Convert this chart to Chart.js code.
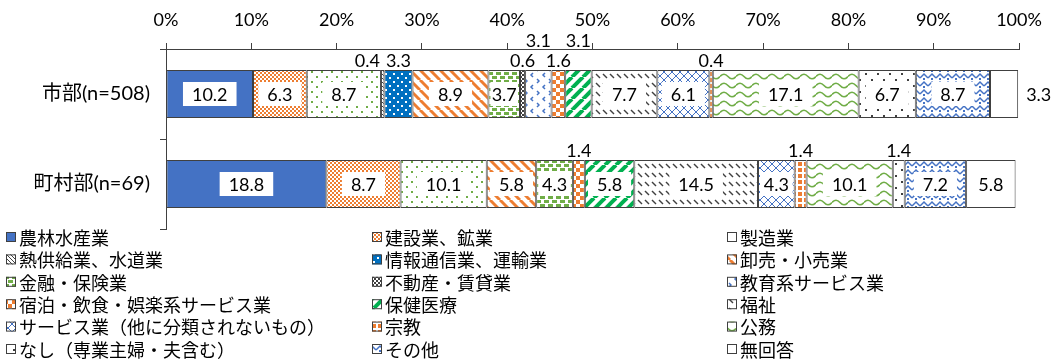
<!DOCTYPE html>
<html lang="ja">
<head>
<meta charset="utf-8">
<title>職業構成</title>
<script src="https://cdn.jsdelivr.net/npm/chart.js@4.4.1/dist/chart.umd.min.js"></script>
<style>
  html, body { margin: 0; padding: 0; background: #fff; }
  canvas { display: block; }
</style>
</head>
<body>
<canvas id="grafico" width="1059" height="363"></canvas>
<script>
// dados (%)
const rowLabels = ['市部(n=508)', '町村部(n=69)'];
const seriesNames = [
  '農林水産業', '建設業、鉱業', '製造業',
  '熱供給業、水道業', '情報通信業、運輸業', '卸売・小売業',
  '金融・保険業', '不動産・賃貸業', '教育系サービス業',
  '宿泊・飲食・娯楽系サービス業', '保健医療', '福祉',
  'サービス業（他に分類されないもの）', '宗教', '公務',
  'なし（専業主婦・夫含む）', 'その他', '無回答'
];
const cityValues = [10.2, 6.3, 8.7, 0.4, 3.3, 8.9, 3.7, 0.6, 3.1, 1.6, 3.1, 7.7, 6.1, 0.4, 17.1, 6.7, 8.7, 3.3];
const townValues = [18.8, 8.7, 10.1, 0, 0, 5.8, 4.3, 0, 0, 1.4, 5.8, 14.5, 4.3, 1.4, 10.1, 1.4, 7.2, 5.8];

const LATO = 'Lato, "Noto Sans CJK JP", sans-serif';
const JP = '"Noto Sans CJK JP", sans-serif';

// --- padrões de preenchimento ---
function tile(w, h, bg, desenha) {
  const c = document.createElement('canvas');
  c.width = w; c.height = h;
  const x = c.getContext('2d');
  x.fillStyle = bg;
  x.fillRect(0, 0, w, h);
  desenha(x, w, h);
  return x.createPattern(c, 'repeat');
}
function listras(cor, s, lw, dir) {
  return tile(s, s, '#fff', (x) => {
    x.strokeStyle = cor; x.lineWidth = lw;
    for (let o = -s; o <= s; o += s) {
      x.beginPath();
      if (dir === '/') { x.moveTo(o, s); x.lineTo(o + s, 0); }
      else { x.moveTo(o, 0); x.lineTo(o + s, s); }
      x.stroke();
    }
  });
}
function xadrez(cor, q) {
  return tile(q * 2, q * 2, '#fff', (x) => {
    x.fillStyle = cor;
    x.fillRect(0, 0, q, q);
    x.fillRect(q, q, q, q);
  });
}
function pontos(cor, bg, s, d) {
  return tile(s, s, bg, (x) => {
    x.fillStyle = cor;
    x.fillRect(1, 1, d, d);
    x.fillRect(s / 2 + 1, s / 2 + 1, d, d);
  });
}

const azul = '#4472C4', laranja = '#ED7D31', verde = '#70AD47', escuro = '#404040';
const padroes = [
  azul,
  xadrez(laranja, 2),
  pontos(verde, '#fff', 10, 2),
  listras(escuro, 4, 1, '\\'),
  pontos('#fff', '#0070C0', 8, 2),
  listras(laranja, 10, 3, '\\'),
  tile(8, 8, '#fff', (x) => {
    x.fillStyle = verde;
    x.fillRect(0, 0, 5, 3); x.fillRect(4, 4, 5, 3); x.fillRect(-4, 4, 5, 3);
  }),
  xadrez(escuro, 2),
  tile(12, 12, '#fff', (x) => {
    x.strokeStyle = azul; x.lineWidth = 1.5;
    x.beginPath(); x.moveTo(5, 1); x.lineTo(3, 3); x.lineTo(5, 5); x.stroke();
    x.beginPath(); x.moveTo(9, 7); x.lineTo(11, 9); x.lineTo(9, 11); x.stroke();
  }),
  xadrez(laranja, 4),
  listras('#00B050', 11, 4, '/'),
  tile(7, 9, '#fff', (x) => {
    x.strokeStyle = escuro; x.lineWidth = 1.5;
    x.beginPath(); x.moveTo(1, 2); x.lineTo(5, 6); x.stroke();
  }),
  tile(8, 8, '#fff', (x) => {
    x.strokeStyle = azul; x.lineWidth = 1;
    x.beginPath(); x.moveTo(0, 0); x.lineTo(8, 8); x.moveTo(8, 0); x.lineTo(0, 8); x.stroke();
  }),
  tile(6, 6, '#fff', (x) => { x.fillStyle = laranja; x.fillRect(0, 0, 4, 4); }),
  tile(16, 9, '#fff', (x) => {
    x.strokeStyle = verde; x.lineWidth = 1.6;
    x.beginPath(); x.moveTo(0, 4.5);
    x.quadraticCurveTo(4, 0, 8, 4.5); x.quadraticCurveTo(12, 9, 16, 4.5);
    x.stroke();
  }),
  pontos(escuro, '#fff', 12, 2),
  tile(8, 8, '#fff', (x) => {
    x.strokeStyle = azul; x.lineWidth = 1.5;
    x.beginPath(); x.moveTo(0, 6); x.lineTo(4, 2); x.lineTo(8, 6); x.stroke();
    x.fillStyle = azul; x.fillRect(3, 6, 2, 2);
  }),
  '#fff'
];

const datasets = seriesNames.map((nome, k) => ({
  label: nome,
  data: [cityValues[k], townValues[k]],
  backgroundColor: padroes[k],
  borderColor: escuro,
  borderWidth: 1,
  borderSkipped: false,
  barPercentage: 0.535,
  categoryPercentage: 1
}));

// rótulos de valor: dentro com caixa branca, ou acima / à direita quando pequenos
const rotulos = {
  id: 'rotulos',
  afterDatasetsDraw(chart) {
    const ctx = chart.ctx;
    ctx.save();
    ctx.font = '18px ' + LATO;
    ctx.textBaseline = 'middle';
    ctx.textAlign = 'center';
    const n = chart.data.datasets.length;
    for (let i = 0; i < chart.data.labels.length; i++) {
      const acima = [];
      for (let d = 0; d < n; d++) {
        const v = chart.data.datasets[d].data[i];
        if (!v) continue;
        const el = chart.getDatasetMeta(d).data[i];
        const { x, base, y, height } = el.getProps(['x', 'base', 'y', 'height'], true);
        const txt = v.toFixed(1);
        const tw = ctx.measureText(txt).width;
        const cx = (x + base) / 2;
        if (v >= 3.5) {
          const bw = Math.min(tw + 18, (x - base) - 4);
          ctx.fillStyle = '#fff';
          ctx.fillRect(cx - bw / 2, y - 12, bw, 24);
          ctx.fillStyle = '#000';
          ctx.fillText(txt, cx, y + 1);
        } else if (d === n - 1) {
          ctx.fillStyle = '#000';
          ctx.textAlign = 'left';
          ctx.fillText(txt, x + 8, y + 1);
          ctx.textAlign = 'center';
        } else {
          acima.push({ txt, tw, cx, larg: x - base, topo: y - height / 2, nv: 0 });
        }
      }
      // distribui os rótulos pequenos em níveis para não sobrepor
      const ultimo = [];
      acima.forEach((r) => {
        const esq = r.cx - r.tw / 2;
        const ant = ultimo[0];
        if (ant && ant.cx + ant.tw / 2 > esq - 2 && r.larg >= r.tw + 2) {
          ant.cx -= (ant.cx + ant.tw / 2) - (esq - 6);
          r.nv = 0;
        } else {
          let nv = 0;
          while (ultimo[nv] && ultimo[nv].cx + ultimo[nv].tw / 2 > esq - 2) nv++;
          r.nv = nv;
        }
        ultimo[r.nv] = r;
      });
      ctx.fillStyle = '#000';
      acima.forEach((r) => ctx.fillText(r.txt, r.cx, r.topo - 9 - r.nv * 20));
    }
    ctx.restore();
  }
};

// legenda em 3 colunas desenhada no canvas
const legenda = {
  id: 'legenda',
  afterDraw(chart) {
    const ctx = chart.ctx;
    const colX = [6, 372, 727];
    const topo = chart.chartArea.bottom + 8;
    ctx.save();
    ctx.font = '18px ' + JP;
    ctx.textBaseline = 'middle';
    chart.data.datasets.forEach((ds, k) => {
      const cx = colX[k % 3];
      const cy = topo + Math.floor(k / 3) * 22.4;
      ctx.fillStyle = ds.backgroundColor;
      ctx.fillRect(cx, cy - 5, 10, 10);
      ctx.strokeStyle = escuro;
      ctx.lineWidth = 1;
      ctx.strokeRect(cx + 0.5, cy - 4.5, 9, 9);
      ctx.fillStyle = '#000';
      ctx.fillText(ds.label, cx + 13, cy + 1);
    });
    ctx.restore();
  }
};

Chart.defaults.color = '#000';

new Chart(document.getElementById('grafico'), {
  type: 'bar',
  data: { labels: rowLabels, datasets: datasets },
  options: {
    indexAxis: 'y',
    responsive: false,
    animation: false,
    layout: { padding: { left: 0, right: 40, top: 0, bottom: 134 } },
    plugins: {
      legend: { display: false },
      tooltip: { enabled: false }
    },
    scales: {
      x: {
        position: 'top',
        stacked: true,
        min: 0,
        max: 100,
        ticks: {
          stepSize: 10,
          padding: 12,
          font: { family: LATO, size: 18 },
          callback: (v) => v + '%'
        },
        grid: { drawOnChartArea: false, tickLength: 6, color: escuro },
        border: { color: escuro },
        afterFit: (s) => { s.height = 49; }
      },
      y: {
        stacked: true,
        offset: true,
        ticks: { padding: 10, font: { family: LATO, size: 20 } },
        grid: { drawOnChartArea: false, offset: true, tickLength: 6, color: escuro },
        border: { color: escuro },
        afterFit: (s) => { s.width = 166; }
      }
    }
  },
  plugins: [rotulos, legenda]
});
</script>
</body>
</html>
